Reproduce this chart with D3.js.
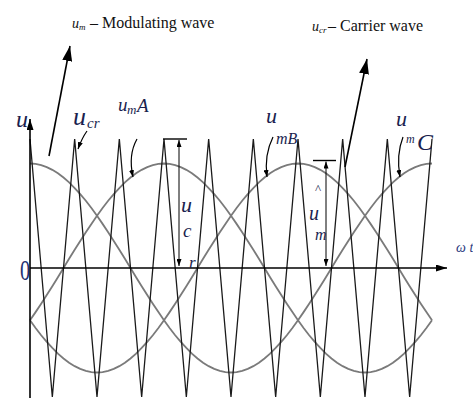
<!DOCTYPE html>
<html>
<head>
<meta charset="utf-8">
<script src="https://cdn.jsdelivr.net/npm/d3@7"></script>
<style>
  html, body { margin: 0; padding: 0; background: #fff; }
  svg { display: block; }
</style>
</head>
<body>
<div id="chart"></div>
<script>
// carrier: triangle vertices every 20 degrees of the modulating period (+1 = peak, -1 = trough)
const carrierStep = 20;
const carrierPeaks = [1, -1, 1, -1, 1, -1, 1, -1, 1, -1, 1, -1, 1, -1, 1, -1, 1, -1, 1];

// modulating wave, one period sampled every 5 degrees, starting at its crest
const modStep = 5;
const modWave = [
  0.81, 0.807, 0.798, 0.782, 0.761, 0.734, 0.701, 0.664, 0.620, 0.573, 0.521, 0.465,
  0.405, 0.342, 0.277, 0.210, 0.141, 0.071, 0, -0.071, -0.141, -0.210, -0.277, -0.342,
  -0.405, -0.465, -0.521, -0.573, -0.620, -0.664, -0.701, -0.734, -0.761, -0.782, -0.798, -0.807,
  -0.81, -0.807, -0.798, -0.782, -0.761, -0.734, -0.701, -0.664, -0.620, -0.573, -0.521, -0.465,
  -0.405, -0.342, -0.277, -0.210, -0.141, -0.071, 0, 0.071, 0.141, 0.210, 0.277, 0.342,
  0.405, 0.465, 0.521, 0.573, 0.620, 0.664, 0.701, 0.734, 0.761, 0.782, 0.798, 0.807
];
// position of the crest of each phase (degrees)
const phaseNames = ['A', 'B', 'C'];
const phaseCrest = [120, 240, 0];

const width = 473, height = 398;
const ink = '#1b1f4f';
const serif = '"Liberation Serif", "Times New Roman", "DejaVu Serif", serif';

const svg = d3.select('#chart').append('svg')
  .attr('width', width)
  .attr('height', height)
  .attr('font-family', serif);

const x = d3.scaleLinear().domain([0, 360]).range([30, 432]);
const y = d3.scaleLinear().domain([-1, 1]).range([397, 139]);

// arrow markers ------------------------------------------------------------
const defs = svg.append('defs');
const addMarker = (id, len, wid) => {
  defs.append('marker')
    .attr('id', id)
    .attr('markerUnits', 'userSpaceOnUse')
    .attr('viewBox', `0 ${-wid / 2} ${len} ${wid}`)
    .attr('refX', len)
    .attr('refY', 0)
    .attr('markerWidth', len)
    .attr('markerHeight', wid)
    .attr('orient', 'auto-start-reverse')
    .append('path')
    .attr('d', `M0,${-wid / 2}L${len},0L0,${wid / 2}Z`)
    .attr('fill', '#000');
};
addMarker('big', 15, 10);
addMarker('axis', 11, 7);
addMarker('small', 7, 5);

// modulating waves ---------------------------------------------------------
const wave = d3.line()
  .x(d => x(d[0]))
  .y(d => y(d[1]));
const n = modWave.length;
phaseNames.forEach((p, k) => {
  const shift = phaseCrest[k] / modStep;
  const pts = d3.range(n + 1).map(i => [i * modStep, modWave[((i - shift) % n + n) % n]]);
  svg.append('path')
    .attr('d', wave(pts))
    .attr('fill', 'none')
    .attr('stroke', '#7a7a7a')
    .attr('stroke-width', 1.8);
});

// carrier -------------------------------------------------------------------
svg.append('path')
  .attr('d', wave(carrierPeaks.map((v, i) => [i * carrierStep, v])))
  .attr('fill', 'none')
  .attr('stroke', '#1a1a1a')
  .attr('stroke-width', 1.3);

// axes ------------------------------------------------------------------
svg.append('line')
  .attr('x1', x(0)).attr('y1', height).attr('x2', x(0)).attr('y2', 119)
  .attr('stroke', '#000').attr('stroke-width', 1.6)
  .attr('marker-end', 'url(#axis)');
svg.append('line')
  .attr('x1', x(0)).attr('y1', y(0)).attr('x2', 447).attr('y2', y(0))
  .attr('stroke', '#000').attr('stroke-width', 1.6)
  .attr('marker-end', 'url(#axis)');

// amplitude markers ----------------------------------------------------------
const amp = (cx, top, barL, barR) => {
  svg.append('line')
    .attr('x1', barL).attr('x2', barR).attr('y1', top).attr('y2', top)
    .attr('stroke', '#000').attr('stroke-width', 1.4);
  svg.append('line')
    .attr('x1', cx).attr('x2', cx).attr('y1', y(0) - 2).attr('y2', top + 1)
    .attr('stroke', '#000').attr('stroke-width', 1)
    .attr('marker-start', 'url(#small)')
    .attr('marker-end', 'url(#small)');
};
amp(179, y(1), 163, 187);
amp(326, y(0.81) - 3, 313, 336);

// pointer arrows -----------------------------------------------------------
const pointer = (d, marker, w) => svg.append('path')
  .attr('d', d)
  .attr('fill', 'none')
  .attr('stroke', '#000')
  .attr('stroke-width', w)
  .attr('marker-end', `url(#${marker})`);
pointer('M49,156L70,46', 'big', 1.6);
pointer('M345,167L367,59', 'big', 1.6);
pointer('M87,131Q82,138 78,149', 'small', 1.2);
pointer('M137,139Q128,155 133,177', 'small', 1.2);
pointer('M273,137Q264,155 267,177', 'small', 1.2);
pointer('M403,137Q396,155 400,177', 'small', 1.2);

// labels -------------------------------------------------------------------
const label = (parts, color) => {
  const t = svg.append('text').attr('fill', color || ink);
  parts.forEach(p => {
    t.append('tspan')
      .attr('x', p.x).attr('y', p.y)
      .attr('font-size', p.s)
      .attr('font-style', p.i ? 'italic' : null)
      .text(p.t);
  });
  return t;
};

// titles
label([
  {t: 'u', x: 72, y: 28, s: 14, i: true},
  {t: 'm', x: 79, y: 30, s: 9, i: true},
  {t: '– Modulating wave', x: 90, y: 28, s: 16}
], '#111');
label([
  {t: 'u', x: 312, y: 31, s: 14, i: true},
  {t: 'cr', x: 319, y: 33, s: 9, i: true},
  {t: '– Carrier wave', x: 328, y: 31, s: 16}
], '#111');

// axis names
label([{t: 'u', x: 16, y: 127, s: 24, i: true}]);
label([{t: 'ω t', x: 456, y: 252, s: 14, i: true}], '#2a3a80');
svg.append('text')
  .attr('transform', 'translate(20,280) scale(0.7,1)')
  .attr('font-size', 29)
  .attr('fill', '#23306f')
  .text('0');

// carrier / modulating names
label([
  {t: 'u', x: 73, y: 125, s: 26, i: true},
  {t: 'cr', x: 87, y: 128, s: 15, i: true}
]);
label([
  {t: 'u', x: 118, y: 111, s: 19, i: true},
  {t: 'm', x: 127, y: 114, s: 13, i: true},
  {t: 'A', x: 137, y: 112, s: 19, i: true}
]);
label([
  {t: 'u', x: 266, y: 123, s: 22, i: true},
  {t: 'mB', x: 276, y: 144, s: 16, i: true}
]);
label([
  {t: 'u', x: 396, y: 126, s: 22, i: true},
  {t: 'm', x: 406, y: 143, s: 12, i: true},
  {t: 'C', x: 417, y: 150, s: 24, i: true}
]);

// amplitude names
label([
  {t: 'u', x: 181, y: 212, s: 22, i: true},
  {t: 'c', x: 183, y: 237, s: 19, i: true},
  {t: 'r', x: 189, y: 268, s: 17, i: true}
]);
label([
  {t: '^', x: 315, y: 193, s: 13},
  {t: 'u', x: 309, y: 220, s: 20, i: true},
  {t: 'm', x: 315, y: 240, s: 16, i: true}
]);
</script>
</body>
</html>
